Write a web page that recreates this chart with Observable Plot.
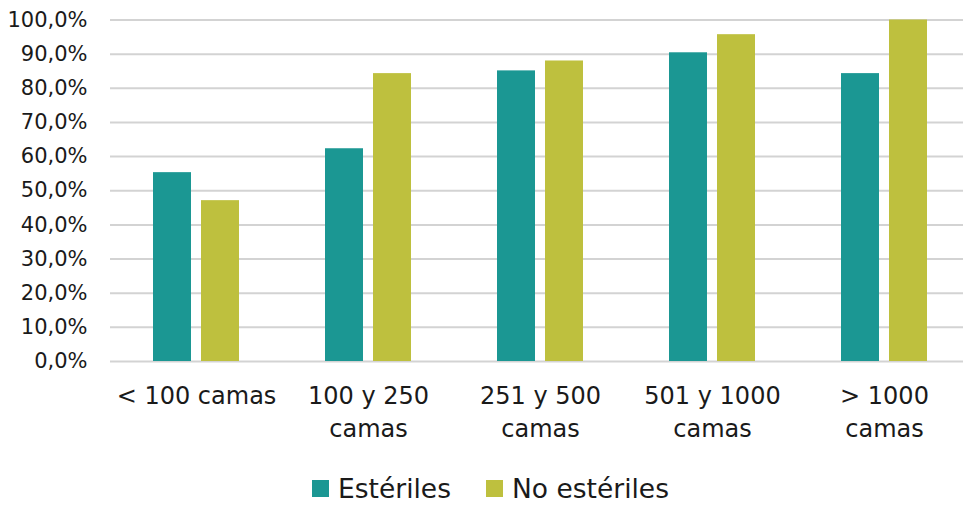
<!DOCTYPE html>
<html lang="es">
<head>
<meta charset="utf-8">
<title>Estériles / No estériles por tamaño de hospital</title>
<script src="https://cdn.jsdelivr.net/npm/d3@7"></script>
<script src="https://cdn.jsdelivr.net/npm/@observablehq/plot@0.6"></script>
<style>
  html, body { margin: 0; padding: 0; background: #fff; overflow: hidden; }
  #chart { width: 963px; height: 505px; }
  .leg-swatches {
    font-family: "DejaVu Sans", sans-serif;
    font-size: 26.5px;
    color: #1a1a1a;
    margin: 17px 0 0 0;
    padding-left: 312px;
  }
  .leg-swatch { margin-right: 35px; }
  .leg-swatch > svg { margin-right: 9px; }
</style>
</head>
<body>
<div id="chart"></div>
<script>
// Hospital size groups and the share for each series (percent)
const categories = ["< 100 camas", "100 y 250 camas", "251 y 500 camas", "501 y 1000 camas", "> 1000 camas"];
const tickLabels = ["< 100 camas", "100 y 250\ncamas", "251 y 500\ncamas", "501 y 1000\ncamas", "> 1000\ncamas"];
const series = ["Estériles", "No estériles"];
const esteriles = [55.3, 62.3, 85.1, 90.4, 84.3];
const noEsteriles = [47.1, 84.3, 88.0, 95.7, 100.0];
const colors = ["#1b9793", "#bec03e"];
const yTicks = [0, 10, 20, 30, 40, 50, 60, 70, 80, 90, 100];

// Long table: one row per bar
const rows = categories.flatMap((cat, i) => [
  {cat, series: series[0], value: esteriles[i]},
  {cat, series: series[1], value: noEsteriles[i]}
]);

const fmtPct = d => d.toFixed(1).replace(".", ",") + "%";
const labelOf = new Map(categories.map((c, i) => [c, tickLabels[i]]));

const chart = Plot.plot({
  width: 963,
  height: 455,
  marginTop: 19.5,
  marginBottom: 94,
  marginLeft: 109,
  marginRight: 0,
  style: {fontFamily: "DejaVu Sans, sans-serif", color: "#1a1a1a", background: "#fff"},
  fx: {domain: categories, range: [109, 971.5], padding: 0, axis: null},
  x: {domain: series, paddingInner: 0.204, paddingOuter: 0.862, axis: null},
  y: {domain: [0, 100], axis: null},
  color: {domain: series, range: colors},
  marks: [
    Plot.gridY(yTicks, {stroke: "#d3d3d3", strokeOpacity: 1, strokeWidth: 2}),
    Plot.barY(rows, {fx: "cat", x: "series", y: "value", fill: "series"}),
    Plot.axisY(yTicks, {
      tickSize: 0, tickPadding: 23, fontSize: 21, label: null, tickFormat: fmtPct
    }),
    Plot.axisFx({
      anchor: "bottom", tickSize: 0, tickPadding: 19, fontSize: 24, lineHeight: 1.375,
      label: null, tickFormat: d => labelOf.get(d)
    })
  ]
});

const legend = chart.legend("color", {swatchSize: 17, className: "leg"});

const root = document.getElementById("chart");
root.appendChild(chart);
root.appendChild(legend);
</script>
</body>
</html>
